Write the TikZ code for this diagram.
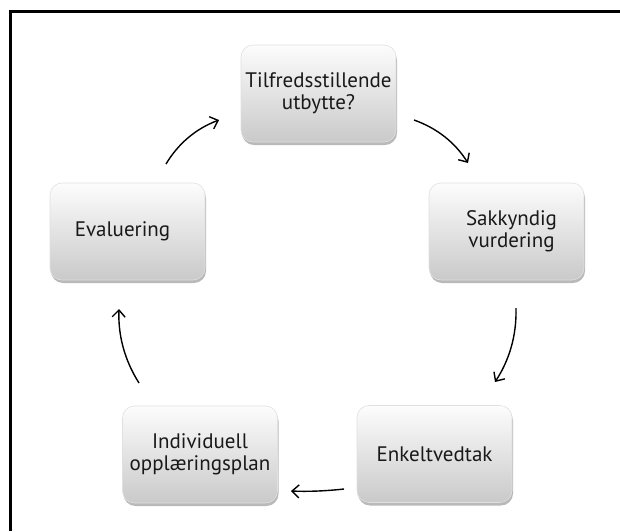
\documentclass[tikz,border=0pt]{standalone}
\usepackage{fontspec}
\setmainfont{PT Sans}
\usetikzlibrary{arrows.meta,shadows}
\begin{document}
\begin{tikzpicture}[x=1pt,y=-1pt,
  box/.style={rounded corners=12pt, minimum width=155pt, minimum height=97pt,
    top color=black!1, bottom color=black!21, draw=black!12, line width=0.6pt,
    align=center, inner sep=0pt, text=black!90,
    font=\fontsize{21}{22}\selectfont,
    drop shadow={shadow xshift=1pt, shadow yshift=-3pt, fill=black!50, opacity=0.55}},
  arr/.style={-{Straight Barb[length=7pt,width=13pt,line width=1.4pt]}, line width=1.4pt}]
\useasboundingbox (0,0) rectangle (620,531);
\draw[line width=3pt] (10.5,531) -- (10.5,11.5) -- (620,11.5);

\node[box] (top) at (318.5,93.5) {Tilfredsstillende\\utbytte?};
\node[box] (sak) at (506.5,231.5) {\hspace*{10pt}Sakkyndig\\\hspace*{10pt}vurdering};
\node[box] (enk) at (434.5,454) {Enkeltvedtak};
\node[box] (iop) at (200,454.5) {Individuell\\opplæringsplan};
\node[box] (eva) at (127.5,231.5) {Evaluering\hspace*{10pt}};

\coordinate (a1s) at (166,164); \coordinate (a1e) at (219,120);
\coordinate (a2s) at (414,120); \coordinate (a2e) at (468,163);
\coordinate (a3s) at (516,308); \coordinate (a3e) at (495,382);
\coordinate (a4s) at (344,489); \coordinate (a4e) at (291,491);
\coordinate (a5s) at (139,383); \coordinate (a5e) at (119,309);

\draw[arr] (a1s) .. controls (178.5,143.2) and (196.2,128.5) .. (a1e);
\draw[arr] (a2s) .. controls (436.9,128.1) and (454.9,142.4) .. (a2e);
\draw[arr] (a3s) .. controls (516.7,334.8) and (509.7,359.5) .. (a3e);
\draw[arr] (a4s) .. controls (326,491) and (308.3,491.7) .. (a4e);
\draw[arr] (a5s) .. controls (124.7,360.4) and (118,335.7) .. (a5e);
\end{tikzpicture}
\end{document}
